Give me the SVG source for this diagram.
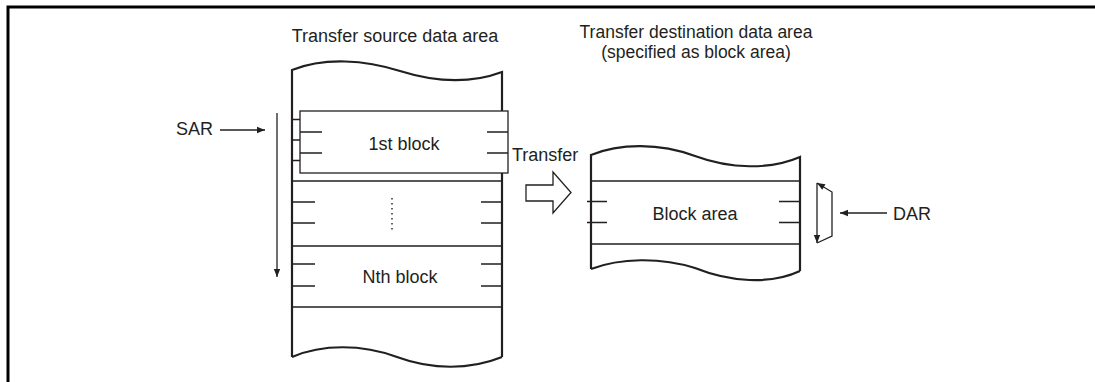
<svg xmlns="http://www.w3.org/2000/svg" width="1095" height="382" viewBox="0 0 1095 382">
<defs>
<style>
.t{font-family:"Liberation Sans",Arial,sans-serif;font-size:18px;fill:#231f20}
.thick{fill:none;stroke:#231f20;stroke-width:2.2}
.thin{fill:none;stroke:#231f20;stroke-width:1.3}
</style>
<marker id="ah" viewBox="0 0 10 10" refX="10" refY="5" markerWidth="10" markerHeight="8" markerUnits="userSpaceOnUse" orient="auto">
<path d="M0,1 L10,5 L0,9 z" fill="#231f20"/>
</marker>
</defs>
<rect width="1095" height="382" fill="#fff"/>
<g id="frame"><path d="M8,382 V7 H1095" fill="none" stroke="#000" stroke-width="3"/></g>

<g id="source-area">
<text class="t" x="395" y="42" text-anchor="middle">Transfer source data area</text>
<path class="thick" d="M292,357 V70 C325,57 365,60 400,71 C435,82 470,84 502,72 V111"/>
<path class="thick" d="M502,173 V357"/>
<path class="thick" d="M292,357 C322,344 362,344 397,357 C432,370 470,370 502,357"/>
<path class="thin" d="M292,119.5H300 M292,140H300 M292,160.5H300"/>
<path class="thin" d="M292,181H502 M292,246H502 M292,307H502"/>
<path class="thin" d="M292,202H315 M292,223H315 M481,202H502 M481,223H502"/>
<path d="M392,198V231" stroke="#231f20" stroke-width="1.4" stroke-dasharray="1.5,3.5" fill="none"/>
<path class="thin" d="M292,264H315 M292,286H315 M481,264H502 M481,286H502"/>
<text class="t" x="400" y="283" text-anchor="middle">Nth block</text>
</g>

<g id="first-block">
<rect x="300" y="111" width="208" height="62" fill="#fff" stroke="#231f20" stroke-width="1.3"/>
<path class="thin" d="M300,132H322 M300,153H322 M487,132H508 M487,153H508"/>
<text class="t" x="404" y="150" text-anchor="middle">1st block</text>
</g>

<g id="transfer">
<text class="t" x="512" y="161">Transfer</text>
<path d="M526,185 H553 V172 L571,192.5 L553,213 V201 H526 Z" fill="#fff" stroke="#231f20" stroke-width="1.3"/>
</g>

<g id="dest-area">
<text class="t" x="696" y="38" text-anchor="middle" style="font-size:17.5px">Transfer destination data area</text>
<text class="t" x="696" y="58" text-anchor="middle" style="font-size:17.5px">(specified as block area)</text>
<path class="thick" d="M591,269 V155 C620,143 660,143 695,156 C730,169 770,170 800,157 V271"/>
<path class="thick" d="M591,269 C620,258 660,257 695,268 C730,282 770,285 800,271"/>
<path class="thin" d="M591,181H800 M591,244H800"/>
<path class="thin" d="M587,201.5H607 M587,222.5H607 M779,201.5H800 M779,222.5H800"/>
<text class="t" x="695" y="220" text-anchor="middle">Block area</text>
</g>

<g id="connectors">
<path class="thin" d="M220,130H265" marker-end="url(#ah)"/>
<text class="t" x="176" y="135">SAR</text>
<path class="thin" d="M277,113V277" marker-end="url(#ah)"/>
<path class="thin" d="M817,183V243" marker-end="url(#ah)"/>
<path class="thin" d="M817,243 L832,236 V192 L817,183" marker-end="url(#ah)"/>
<path class="thin" d="M887,213H840" marker-end="url(#ah)"/>
<text class="t" x="893" y="220">DAR</text>
</g>
</svg>
